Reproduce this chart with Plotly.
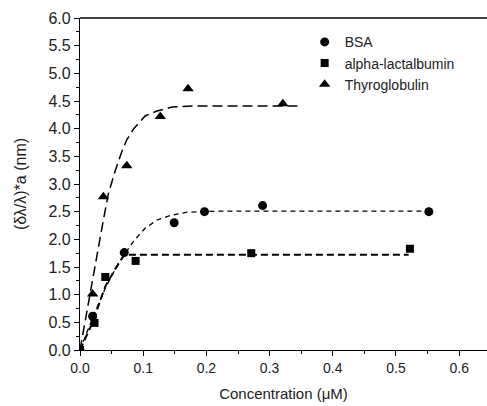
import plotly.graph_objects as go

# Measured data points
bsa_x = [0.0, 0.02, 0.07, 0.149, 0.197, 0.289, 0.552]
bsa_y = [0.0, 0.61, 1.76, 2.30, 2.50, 2.61, 2.50]
alpha_x = [0.0, 0.023, 0.04, 0.088, 0.271, 0.522]
alpha_y = [0.0, 0.49, 1.32, 1.61, 1.75, 1.83]
thyro_x = [0.0, 0.02, 0.037, 0.074, 0.127, 0.171, 0.321]
thyro_y = [0.0, 1.01, 2.77, 3.33, 4.22, 4.72, 4.45]

# Fitted curves
bsa_fit_x = [0.0, 0.02, 0.04, 0.06, 0.07, 0.085, 0.103, 0.122, 0.143, 0.169, 0.222, 0.55]
bsa_fit_y = [0.0, 0.58, 1.12, 1.55, 1.72, 1.97, 2.20, 2.35, 2.43, 2.49, 2.51, 2.51]
alpha_fit_x = [0.0, 0.02, 0.04, 0.055, 0.07, 0.52]
alpha_fit_y = [0.0, 0.50, 1.15, 1.45, 1.72, 1.72]
thyro_fit_x = [0.0, 0.02, 0.028, 0.037, 0.045, 0.056, 0.066, 0.074, 0.085, 0.103, 0.122, 0.146, 0.177, 0.344]
thyro_fit_y = [0.0, 1.23, 1.78, 2.35, 2.83, 3.25, 3.58, 3.80, 4.00, 4.23, 4.32, 4.39, 4.41, 4.41]

x_ticks = [0.0, 0.1, 0.2, 0.3, 0.4, 0.5, 0.6]
y_ticks = [0.0, 0.5, 1.0, 1.5, 2.0, 2.5, 3.0, 3.5, 4.0, 4.5, 5.0, 5.5, 6.0]

FONT = "Liberation Sans, Arial, sans-serif"
TXT = "#222"

fig = go.Figure()
fig.add_trace(go.Scatter(x=bsa_fit_x, y=bsa_fit_y, mode="lines", showlegend=False,
                         line=dict(color="black", width=1.3, dash="5px,4px")))
fig.add_trace(go.Scatter(x=alpha_fit_x, y=alpha_fit_y, mode="lines", showlegend=False,
                         line=dict(color="black", width=2, dash="7px,4px")))
fig.add_trace(go.Scatter(x=thyro_fit_x, y=thyro_fit_y, mode="lines", showlegend=False,
                         line=dict(color="black", width=1.5, dash="10px,5px")))
fig.add_trace(go.Scatter(x=bsa_x, y=bsa_y, mode="markers", name="BSA",
                         marker=dict(symbol="circle", size=9, color="black")))
fig.add_trace(go.Scatter(x=alpha_x, y=alpha_y, mode="markers", name="alpha-lactalbumin",
                         marker=dict(symbol="square", size=8, color="black")))
fig.add_trace(go.Scatter(x=thyro_x, y=thyro_y, mode="markers", name="Thyroglobulin",
                         marker=dict(symbol="triangle-up", size=10, color="black")))

fig.update_layout(
    width=487, height=406,
    margin=dict(l=80, r=0, t=18, b=56, autoexpand=False),
    paper_bgcolor="white", plot_bgcolor="white",
    font=dict(family=FONT, size=14, color=TXT),
    legend=dict(x=0.552, y=0.975, xanchor="left", yanchor="top",
                font=dict(size=14, family=FONT, color=TXT),
                bgcolor="rgba(0,0,0,0)", tracegroupgap=0, itemwidth=30),
)
fig.update_xaxes(
    range=[0, 0.644], tickvals=x_ticks, ticktext=[f"{v:.1f}" for v in x_ticks],
    automargin=False,
    showgrid=False, zeroline=False, showline=True, linecolor="black", linewidth=1.3,
    mirror=False, ticks="outside", ticklen=5, tickcolor="black", tickwidth=1,
    minor=dict(dtick=0.05, ticklen=3, ticks="outside", tickcolor="black", tickwidth=1),
    title=dict(text="Concentration (μM)", font=dict(size=15, family=FONT, color=TXT), standoff=13),
    tickfont=dict(size=14, family=FONT, color=TXT),
)
fig.update_yaxes(
    range=[0, 6.0], tickvals=y_ticks, ticktext=[f"{v:.1f}" for v in y_ticks],
    automargin=False,
    showgrid=False, zeroline=False, showline=True, linecolor="black", linewidth=1.3,
    ticks="outside", ticklen=5, tickcolor="black", tickwidth=1,
    minor=dict(dtick=0.25, ticklen=3, ticks="outside", tickcolor="black", tickwidth=1),
    title=dict(text="(δλ/λ)*a (nm)", font=dict(size=16, family=FONT, color=TXT), standoff=17),
    tickfont=dict(size=16, family=FONT, color=TXT),
)
# top border line
fig.add_shape(type="line", xref="paper", yref="paper", x0=0, x1=1, y0=1, y1=1,
              line=dict(color="black", width=1.3))

fig.write_html("out.html", config={"displayModeBar": False},
               post_script="document.body.style.margin='0';document.body.style.overflow='hidden';")
